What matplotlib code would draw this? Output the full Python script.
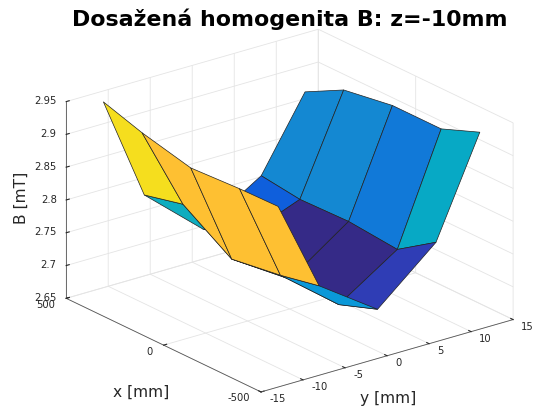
import matplotlib
matplotlib.use("Agg")
import matplotlib.pyplot as plt
from mpl_toolkits.mplot3d.art3d import Poly3DCollection

X_MM = [510, 300, 0, -300, -525]
Y_MM = [-10.4, -5.8, 0, 5.8, 10.4]
B_MT = [
    [2.932, 2.868, 2.793, 2.740, 2.696],
    [2.820, 2.789, 2.684, 2.638, 2.605],
    [2.811, 2.779, 2.696, 2.636, 2.612],
    [2.935, 2.882, 2.827, 2.763, 2.757],
    [3.095, 3.081, 3.036, 2.979, 2.957],
]
FACE_COLORS = [
    ["#f5de1e", "#fec032", "#fec032", "#fec032"],
    ["#0eadbf", "#0a90da", "#0a90da", "#0a98d8"],
    ["#0f5fdc", "#352a87", "#352a87", "#2f3db5"],
    ["#1488d2", "#1488d2", "#1179d8", "#07a9c5"],
]
X_TICKS = [-500, 0, 500]
Y_TICKS = [-15, -10, -5, 0, 5, 10, 15]
Z_TICKS = [2.65, 2.7, 2.75, 2.8, 2.85, 2.9, 2.95]
Z_LABELS = ["2.65", "2.7", "2.75", "2.8", "2.85", "2.9", "2.95"]

plt.rcParams["axes.unicode_minus"] = False
plt.rcParams["grid.color"] = "#e4e4e4"
plt.rcParams["grid.linewidth"] = 0.6

fig = plt.figure(figsize=(5.43, 4.07), dpi=100)
ax = fig.add_axes([0.024, 0.005, 1.0, 0.93], projection="3d", proj_type="ortho",
                  computed_zorder=False)
ax.set_box_aspect((1, 1, 0.665), zoom=1.277)
ax.view_init(elev=21.8, azim=-37.7)
ax.set_xlim(500, -500, view_margin=0)
ax.set_ylim(-15, 15, view_margin=0)
ax.set_zlim(2.65, 2.95, view_margin=0)

# faces go in row by row from x=-500 so the x=500 strip ends up on top
order = 0
for i in range(3, -1, -1):
    for j in range(4):
        corners = [
            (X_MM[i], Y_MM[j], B_MT[i][j]),
            (X_MM[i], Y_MM[j + 1], B_MT[i][j + 1]),
            (X_MM[i + 1], Y_MM[j + 1], B_MT[i + 1][j + 1]),
            (X_MM[i + 1], Y_MM[j], B_MT[i + 1][j]),
        ]
        face = Poly3DCollection([corners], facecolor=FACE_COLORS[i][j],
                                edgecolor="#222222", linewidth=0.5, zorder=5 + order)
        ax.add_collection3d(face, autolim=False)
        face.set_clip_on(False)
        order += 1

ax.set_xticks(X_TICKS)
ax.set_yticks(Y_TICKS)
ax.set_zticks(Z_TICKS)
ax.set_zticklabels(Z_LABELS)
ax.tick_params(labelsize=7.2, colors="#262626", pad=-2)
ax.tick_params(axis="z", pad=-5)
ax.tick_params(axis="y", pad=-2)

for axis in (ax.xaxis, ax.yaxis, ax.zaxis):
    axis.set_pane_color((1, 1, 1, 0))
    axis.pane.set_edgecolor("#dddddd")
    axis.line.set_color("#555555")
    axis.line.set_linewidth(0.6)
    axis._axinfo["tick"]["inward_factor"] = 0.0
    axis._axinfo["tick"]["outward_factor"] = 0.15

ax.zaxis.set_ticks_position("lower")
for label in ax.get_zticklabels():
    label.set_ha("right")
    label.set_va("center")
for label in ax.get_xticklabels():
    label.set_ha("right")
    label.set_va("bottom")
for label in ax.get_yticklabels():
    label.set_ha("left")
    label.set_va("bottom")

fig.text(0.26, 0.035, "x [mm]", fontsize=11.2, color="#262626", ha="center", va="center")
fig.text(0.714, 0.021, "y [mm]", fontsize=11.2, color="#262626", ha="center", va="center")
fig.text(0.04, 0.513, "B [mT]", fontsize=11.2, color="#262626", rotation=90,
         ha="center", va="center")

fig.text(0.534, 0.953, "Dosažená homogenita B: z=-10mm", fontsize=15.9,
         fontweight="bold", ha="center", va="center")

fig.savefig("out.png", dpi=100)
